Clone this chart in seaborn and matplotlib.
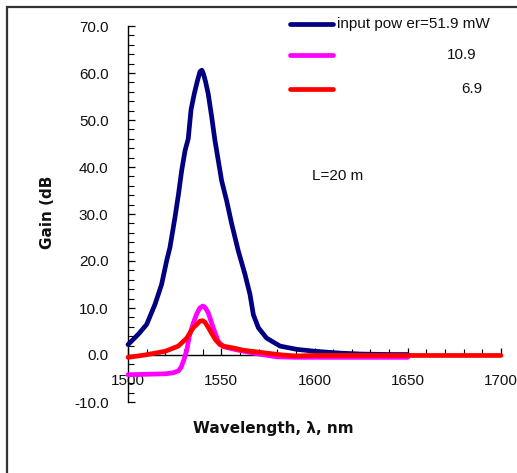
import matplotlib
matplotlib.use("Agg")
import matplotlib.pyplot as plt
from matplotlib.lines import Line2D
from matplotlib.patches import Rectangle
from matplotlib.ticker import MultipleLocator, FormatStrFormatter
import seaborn as sns
import pandas as pd

# Gain spectra for three input pump powers (fibre length 20 m)
wl_519 = [1500, 1505.5, 1510, 1514.5, 1518, 1520.7, 1522.5, 1525.2, 1527.1,
          1528.8, 1530.6, 1532.3, 1533.8, 1535.6, 1537.2, 1538.6, 1539.6,
          1540.4, 1541.5, 1543, 1544.9, 1546.6, 1548.4, 1550.2, 1552.9,
          1555.6, 1559.1, 1562.7, 1565.4, 1567.2, 1569.9, 1574.3, 1581.5,
          1590.5, 1600, 1613.7, 1625, 1640, 1650]
gain_519 = [2.2, 4.4, 6.5, 10.8, 15.0, 20.0, 22.9, 29.3, 34.3,
            39.3, 43.5, 46.0, 52.2, 55.7, 58.3, 60.3, 60.6,
            59.9, 58.3, 55.6, 50.6, 45.7, 41.4, 37.1, 32.8,
            27.9, 22.2, 17.2, 12.9, 8.6, 5.8, 3.6, 1.9,
            1.2, 0.8, 0.4, 0.2, 0.1, 0.1]

wl_109 = [1500, 1510, 1520, 1524, 1527, 1528.5, 1530, 1531.5, 1533, 1535,
          1536.8, 1538.5, 1540, 1541.2, 1543, 1545.7, 1548.4, 1551, 1556,
          1562, 1570, 1580, 1590, 1620, 1650]
gain_109 = [-4.2, -4.1, -4.0, -3.8, -3.4, -2.6, -1.0, 1.0, 4.2, 6.8,
            8.7, 10.0, 10.4, 10.2, 9.0, 5.8, 2.9, 1.8, 1.3,
            0.8, 0.2, -0.4, -0.5, -0.5, -0.5]

wl_69 = [1500, 1509, 1520, 1527, 1531.5, 1535, 1538.6, 1540, 1541.2, 1543,
         1545, 1547, 1549.3, 1552, 1556.5, 1562, 1574.3, 1583, 1590, 1600,
         1650, 1700]
gain_69 = [-0.5, 0.0, 0.8, 1.9, 3.6, 5.8, 7.2, 7.3, 7.0, 5.9,
           4.5, 3.2, 2.2, 1.8, 1.5, 1.0, 0.4, 0.0, -0.2, -0.1,
           -0.1, -0.1]

series_labels = ["input pow er=51.9 mW", "10.9", "6.9"]
series_colors = ["#000080", "#FF00FF", "#FF0000"]

x_ticks = [1500, 1550, 1600, 1650, 1700]
y_ticks = [-10, 0, 10, 20, 30, 40, 50, 60, 70]

sns.set_style("white")
plt.rcParams["font.family"] = ["Liberation Sans", "DejaVu Sans"]
plt.rcParams["axes.unicode_minus"] = False

W, H = 517, 473
fig = plt.figure(figsize=(W / 100, H / 100), dpi=100)
fig.patch.set_facecolor("white")

# outer chart frame (open on the right and bottom)
fig.add_artist(Rectangle((7 / W, -0.2), 1.2, 1 - 7 / H + 0.2,
                         transform=fig.transFigure, fill=False,
                         edgecolor="#333333", linewidth=1.6))

ax = fig.add_axes([128 / W, 1 - 402 / H, (501 - 128) / W, (402 - 26) / H])
ax.set_facecolor("none")

frames = [
    pd.DataFrame({"wl": wl_519, "gain": gain_519}),
    pd.DataFrame({"wl": wl_109, "gain": gain_109}),
    pd.DataFrame({"wl": wl_69, "gain": gain_69}),
]
for df, col in zip(frames, series_colors):
    sns.lineplot(data=df, x="wl", y="gain", ax=ax, color=col, linewidth=3.4,
                 solid_joinstyle="round", solid_capstyle="round",
                 estimator=None, sort=False, clip_on=False, zorder=3)

ax.set_xlim(1500, 1700)
ax.set_ylim(-10, 70)
ax.set_xlabel("")
ax.set_ylabel("")

ax.spines["top"].set_visible(False)
ax.spines["right"].set_visible(False)
ax.spines["bottom"].set_position(("data", 0))
for s in ("left", "bottom"):
    ax.spines[s].set_color("black")
    ax.spines[s].set_linewidth(1.0)

ax.set_xticks(x_ticks)
ax.set_yticks(y_ticks)
ax.xaxis.set_minor_locator(MultipleLocator(10))
ax.yaxis.set_minor_locator(MultipleLocator(2))
ax.yaxis.set_major_formatter(FormatStrFormatter("%.1f"))
ax.tick_params(axis="both", which="both", direction="in", colors="black",
               labelsize=11, labelcolor="#111111", left=True, bottom=True)
ax.tick_params(axis="both", which="major", length=5, width=0.9)
ax.tick_params(axis="both", which="minor", length=4, width=0.8)
ax.tick_params(axis="x", which="major", pad=14)
ax.tick_params(axis="y", which="major", pad=14)
ax.grid(False)

# axis titles
fig.text(48 / W, 1 - 212 / H, "Gain (dB", rotation=90, ha="center", va="center",
         fontsize=11, fontweight="bold", color="#111111",
         family=["DejaVu Sans"])
fig.text(273 / W, 1 - 429 / H, "Wavelength, λ, nm", ha="center", va="center",
         fontsize=11, fontweight="bold", color="#111111",
         family=["DejaVu Sans"])

# legend
legend_rows = [24, 55, 89]
legend_text_x = [(337, "left"), (461.7, "center"), (471.7, "center")]
for row_y, col, lab, (tx, ha) in zip(legend_rows, series_colors, series_labels,
                                     legend_text_x):
    fig.add_artist(Line2D([290 / W, 333 / W], [1 - row_y / H, 1 - row_y / H],
                          transform=fig.transFigure, color=col, linewidth=3.4,
                          solid_capstyle="round"))
    fig.text(tx / W, 1 - row_y / H, lab, ha=ha, va="center", fontsize=11,
             color="#111111")

fig.text(312 / W, 1 - 176 / H, "L=20 m", ha="left", va="center", fontsize=11,
         color="#111111")

fig.savefig("out.png", dpi=100, facecolor="white")
